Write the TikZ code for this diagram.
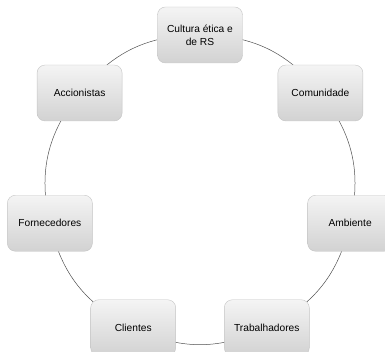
\documentclass[tikz,border=0pt]{standalone}
\usepackage{fontspec}
\setmainfont{Liberation Sans}
\usetikzlibrary{backgrounds}
\definecolor{boxtop}{HTML}{F4F4F4}
\definecolor{boxbot}{HTML}{D2D2D2}
\definecolor{boxline}{HTML}{C4C4C4}
\definecolor{ringline}{HTML}{505050}
\begin{document}
\begin{tikzpicture}[x=1pt,y=1pt,every node/.style={draw=boxline,rounded corners=8pt,top color=boxtop,bottom color=boxbot,minimum width=85pt,minimum height=56pt,align=center,font=\fontsize{10.2}{13}\selectfont,inner sep=2pt},ring/.style={ringline,line width=0.5pt,bend left=25.7}]
\useasboundingbox (-200,-163) rectangle (185,189);
% \foreach \a in {90,38.6,...}{ }
\node (c) at (90:154){Cultura ética e\\de RS};
\node (com) at (38.57:154){Comunidade};
\node (amb) at (-12.86:154){Ambiente};
\node (tra) at (-64.29:154){Trabalhadores};
\node (cli) at (-115.71:154){Clientes};
\node (for) at (-167.14:154){Fornecedores};
\node (acc) at (141.43:154){Accionistas};
\begin{scope}[on background layer]
\draw[ring] (c.center) to (com.center);
\draw[ring] (com.center) to (amb.center);
\draw[ring] (amb.center) to (tra.center);
\draw[ring] (tra.center) to (cli.center);
\draw[ring] (cli.center) to (for.center);
\draw[ring] (for.center) to (acc.center);
\draw[ring] (acc.center) to (c.center);
\end{scope}
\end{tikzpicture}
\end{document}
